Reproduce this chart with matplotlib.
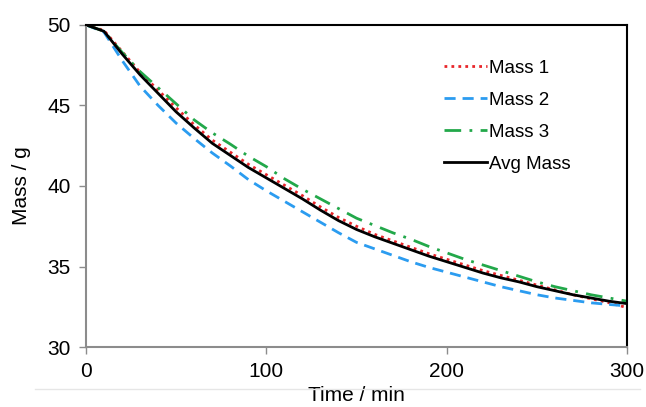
import numpy as np
import matplotlib.pyplot as plt
from matplotlib.lines import Line2D

plt.rcParams['font.family'] = ['Liberation Sans', 'DejaVu Sans']

# Zeit in Minuten
zeit = [0, 10, 20, 30, 40, 50, 60, 70, 80, 90, 100, 110, 120, 130, 140, 150,
        160, 170, 180, 190, 200, 210, 220, 230, 240, 250, 260, 270, 280, 290, 300]

masse_1 = [50.0, 49.65, 48.35, 47.05, 45.95, 44.85, 43.8, 42.85, 42.1, 41.35, 40.7,
           40.05, 39.4, 38.7, 38.05, 37.5, 37.0, 36.6, 36.2, 35.8, 35.45,
           35.1, 34.75, 34.45, 34.15, 33.85, 33.55, 33.25, 33.0, 32.75, 32.45]
masse_2 = [50.0, 49.55, 47.8, 46.2, 45.0, 43.9, 42.95, 42.05, 41.25, 40.4, 39.7,
           39.05, 38.4, 37.75, 37.1, 36.5, 36.1, 35.7, 35.3, 34.95, 34.65,
           34.35, 34.05, 33.75, 33.5, 33.25, 33.05, 32.9, 32.75, 32.65, 32.55]
masse_3 = [50.0, 49.6, 48.3, 47.1, 46.1, 45.1, 44.1, 43.3, 42.6, 41.85, 41.2,
           40.45, 39.8, 39.2, 38.6, 38.0, 37.55, 37.1, 36.7, 36.25, 35.85,
           35.45, 35.1, 34.75, 34.4, 34.05, 33.75, 33.5, 33.25, 33.05, 32.85]
masse_avg = [50.0, 49.6, 48.2, 46.9, 45.75, 44.6, 43.6, 42.65, 41.9, 41.15, 40.5,
             39.85, 39.2, 38.5, 37.85, 37.3, 36.85, 36.45, 36.05, 35.65, 35.3,
             34.95, 34.6, 34.3, 34.05, 33.75, 33.5, 33.25, 33.05, 32.85, 32.7]

fig = plt.figure(figsize=(6.46, 4.07), dpi=100)
ax = fig.add_axes([0.133, 0.147, 0.838, 0.792])

ax.plot(zeit, masse_1, color='#e8262a', linestyle=(0, (1, 1.5)), linewidth=2, label='Mass 1')
ax.plot(zeit, masse_2, color='#2b9cf0', linestyle=(0, (4, 2.5)), linewidth=2, label='Mass 2')
ax.plot(zeit, masse_3, color='#22a84a', linestyle=(0, (6, 3, 1, 3)), linewidth=2, label='Mass 3')
ax.plot(zeit, masse_avg, color='black', linewidth=2, label='Avg Mass')

ax.set_xlim(0, 300)
ax.set_ylim(30, 50)
ax.set_xticks([0, 100, 200, 300])
ax.set_yticks([30, 35, 40, 45, 50])

for s in ['left', 'bottom']:
    ax.spines[s].set_color('#8c8c8c')
    ax.spines[s].set_linewidth(1.5)
for s in ['top', 'right']:
    ax.spines[s].set_color('black')
    ax.spines[s].set_linewidth(1.5)

ax.tick_params(direction='out', length=5, width=1, color='#8c8c8c',
               labelsize=15, pad=6)

ax.set_xlabel('Time / min', fontsize=15, labelpad=3)
ax.set_ylabel('Mass / g', fontsize=15, labelpad=12)

ax.legend(loc='upper left', bbox_to_anchor=(0.63, 0.945), frameon=False,
          fontsize=13.5, handlelength=2.3, handletextpad=0.1, labelspacing=0.8)

# feine Trennlinie unter der Achse
fig.add_artist(Line2D([0.054, 0.99], [0.044, 0.044], color='#e6e6e6', linewidth=1))

fig.savefig('out.png', dpi=100)
